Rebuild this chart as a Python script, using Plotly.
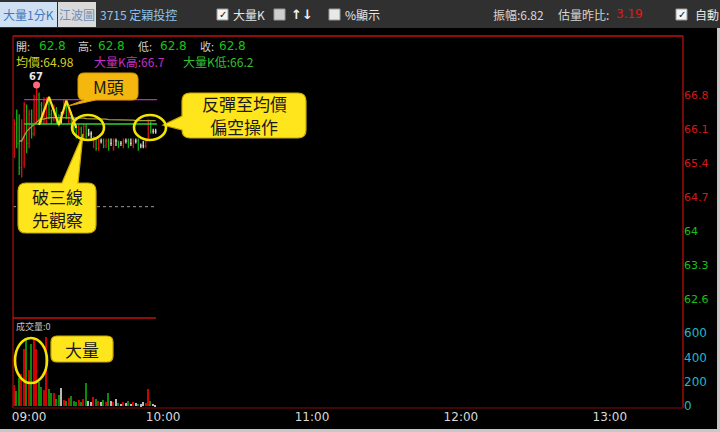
import plotly.graph_objects as go

W, H = 720, 432

# ---------------- data ----------------
minutes = list(range(58))
opens = [65.6, 66.2, 65.8, 65.3, 65.4, 66.55, 65.8, 66.4, 66.0, 66.3,
         66.8, 66.6, 66.25, 66.3, 66.6, 66.4, 66.3, 66.5, 66.3, 66.3,
         66.5, 66.6, 66.25, 66.4, 66.25, 66.1, 65.95, 66.1, 65.9, 66.15,
         66.0, 66.0, 65.75, 65.9, 65.7, 65.85, 65.85, 65.75, 65.85, 65.8,
         65.7, 65.85, 65.85, 65.8, 65.75, 65.85, 65.85, 65.8, 65.75, 65.85,
         65.85, 65.75, 65.75, 65.75, 65.85, 66.2, 66.05, 66.05]
highs = [66.3, 66.5, 66.4, 66.3, 66.65, 66.6, 66.5, 66.5, 66.8, 67.0,
         66.85, 66.65, 66.75, 66.75, 66.7, 66.5, 66.6, 66.55, 66.4, 66.45,
         66.7, 66.65, 66.5, 66.45, 66.3, 66.2, 66.2, 66.15, 66.2, 66.2,
         66.1, 66.05, 65.95, 65.9, 65.9, 65.9, 65.9, 65.9, 65.9, 65.9,
         65.9, 65.9, 65.85, 65.85, 65.9, 65.9, 65.9, 65.9, 65.9, 65.9,
         65.9, 65.8, 65.85, 65.9, 66.3, 66.25, 66.1, 66.1]
lows = [65.5, 65.7, 65.15, 65.1, 65.3, 65.6, 65.7, 65.9, 65.95, 66.2,
        66.2, 66.2, 66.2, 66.2, 66.3, 66.2, 66.25, 66.2, 66.15, 66.2,
        66.4, 66.3, 66.2, 66.2, 66.05, 65.9, 65.9, 65.9, 65.85, 65.9,
        65.95, 65.9, 65.7, 65.65, 65.65, 65.8, 65.7, 65.7, 65.65, 65.75,
        65.65, 65.75, 65.7, 65.75, 65.7, 65.8, 65.7, 65.75, 65.7, 65.8,
        65.65, 65.7, 65.7, 65.7, 65.85, 66.0, 66.0, 66.0]
closes = [66.2, 65.8, 65.3, 66.2, 66.6, 65.8, 66.4, 66.0, 66.7, 66.8,
          66.3, 66.25, 66.7, 66.7, 66.4, 66.3, 66.5, 66.3, 66.2, 66.3,
          66.6, 66.35, 66.4, 66.25, 66.1, 65.95, 66.1, 65.95, 66.15, 65.95,
          66.0, 66.0, 65.9, 65.7, 65.85, 65.85, 65.75, 65.85, 65.7, 65.8,
          65.85, 65.85, 65.75, 65.8, 65.85, 65.85, 65.75, 65.8, 65.85, 65.85,
          65.7, 65.75, 65.75, 65.85, 66.25, 66.05, 66.05, 66.05]
volumes = [170, 120, 230, 260, 470, 540, 300, 510, 560, 470,
           200, 155, 130, 570, 140, 105, 110, 60, 90, 150,
           50, 40, 65, 80, 45, 35, 50, 30, 60, 190,
           45, 30, 75, 60, 40, 30, 50, 35, 105, 40,
           30, 55, 25, 20, 35, 25, 40, 20, 30, 25,
           20, 15, 30, 25, 140, 40, 20, 10]
avg_minutes = list(range(2, 58))
avg_price = [65.85, 65.85, 65.95, 66.05, 66.1, 66.15, 66.2, 66.25,
             66.28, 66.3, 66.3, 66.32, 66.33, 66.33, 66.33, 66.33, 66.33, 66.33,
             66.33, 66.33, 66.33, 66.33, 66.33, 66.32, 66.32, 66.32, 66.32, 66.31,
             66.31, 66.31, 66.31, 66.3, 66.3, 66.3, 66.3, 66.3, 66.29, 66.29,
             66.29, 66.29, 66.29, 66.28, 66.28, 66.28, 66.28, 66.28, 66.28, 66.27,
             66.27, 66.27, 66.27, 66.27, 66.27, 66.27, 66.27, 66.27]
big_k_high = 66.7
big_k_low = 66.2
ref_price = 64.5
line_start, line_end = 4, 57.5
peak_minute, peak_price = 9, 67.0
m_top_x = [10, 14, 18, 21, 25]
m_top_y = [66.18, 66.76, 66.18, 66.68, 66.12]

price_ticks_up = [64.7, 65.4, 66.1, 66.8]
price_ticks_down = [62.6, 63.3, 64.0]
price_labels_down = ["62.6", "63.3", "64"]
vol_ticks = [0, 200, 400, 600]
time_ticks = [6, 60, 120, 180, 240]
time_labels = ["09:00", "10:00", "11:00", "12:00", "13:00"]

# ---------------- helpers (pixel -> paper) ----------------
def px(x):
    return x / W

def py(y):
    return 1 - y / H

def pt(x, y):
    return f"{px(x):.5f},{py(y):.5f}"

def bubble(x0, y0, x1, y1, r, tail=None):
    p = [f"M{pt(x0 + r, y0)}"]
    if tail and tail[0] == "top":
        _, a, b, tx, ty = tail
        p += [f"L{pt(a, y0)}", f"L{pt(tx, ty)}", f"L{pt(b, y0)}"]
    p += [f"L{pt(x1 - r, y0)}", f"Q{pt(x1, y0)} {pt(x1, y0 + r)}",
          f"L{pt(x1, y1 - r)}", f"Q{pt(x1, y1)} {pt(x1 - r, y1)}"]
    if tail and tail[0] == "bottom":
        _, a, b, tx, ty = tail
        p += [f"L{pt(b, y1)}", f"L{pt(tx, ty)}", f"L{pt(a, y1)}"]
    p += [f"L{pt(x0 + r, y1)}", f"Q{pt(x0, y1)} {pt(x0, y1 - r)}"]
    if tail and tail[0] == "left":
        _, a, b, tx, ty = tail
        p += [f"L{pt(x0, b)}", f"L{pt(tx, ty)}", f"L{pt(x0, a)}"]
    p += [f"L{pt(x0, y0 + r)}", f"Q{pt(x0, y0)} {pt(x0 + r, y0)}", "Z"]
    return " ".join(p)

# ---------------- traces ----------------
RED, GREEN, WHITE = "#e01010", "#10b010", "#d8d8d8"
groups = {"up": [], "down": [], "flat": []}
for i in minutes:
    if closes[i] > opens[i]:
        groups["up"].append(i)
    elif closes[i] < opens[i]:
        groups["down"].append(i)
    else:
        groups["flat"].append(i)
col_of = {"up": RED, "down": GREEN, "flat": WHITE}
vol_col = {"up": "#d00000", "down": "#0a8a0a", "flat": "#b8b8b8"}

fig = go.Figure()

fig.add_trace(go.Scatter(x=[minutes[0] - 0.5, line_end], y=[ref_price, ref_price],
                         xaxis="x2", yaxis="y", mode="lines",
                         line=dict(color="#9a9a9a", width=1, dash="dot"), hoverinfo="skip"))
fig.add_trace(go.Scatter(x=[line_start, line_end], y=[big_k_high, big_k_high],
                         xaxis="x2", yaxis="y", mode="lines",
                         line=dict(color="#c028c0", width=1.3), hoverinfo="skip"))
fig.add_trace(go.Scatter(x=avg_minutes, y=avg_price, xaxis="x2", yaxis="y", mode="lines",
                         line=dict(color="#a8a040", width=1.3), hoverinfo="skip"))
fig.add_trace(go.Scatter(x=[line_start, line_end], y=[big_k_low, big_k_low],
                         xaxis="x2", yaxis="y", mode="lines",
                         line=dict(color="#30d030", width=1.6), hoverinfo="skip"))

for g, idx in groups.items():
    fig.add_trace(go.Ohlc(
        x=[minutes[i] for i in idx], open=[opens[i] for i in idx],
        high=[highs[i] for i in idx], low=[lows[i] for i in idx],
        close=[closes[i] for i in idx], xaxis="x2", yaxis="y",
        tickwidth=0.35,
        increasing=dict(line=dict(color=col_of[g], width=1.3)),
        decreasing=dict(line=dict(color=col_of[g], width=1.3)),
        hoverinfo="skip"))

fig.add_trace(go.Scatter(x=m_top_x, y=m_top_y, xaxis="x2", yaxis="y", mode="lines",
                         line=dict(color="#ffe020", width=2.2), hoverinfo="skip"))
fig.add_trace(go.Scatter(x=[peak_minute], y=[peak_price], xaxis="x2", yaxis="y",
                         mode="markers", marker=dict(color="#ff6a7a", size=7),
                         hoverinfo="skip"))

fig.add_trace(go.Bar(x=minutes, y=volumes, xaxis="x", yaxis="y2", width=0.6,
                     marker=dict(color=[vol_col["up" if closes[i] > opens[i] else
                                                ("down" if closes[i] < opens[i] else "flat")]
                                        for i in minutes], line=dict(width=0)),
                     hoverinfo="skip"))
fig.add_trace(go.Scatter(x=[0], y=[64], xaxis="x2", yaxis="y3", mode="markers",
                         marker=dict(opacity=0), hoverinfo="skip"))

XD = [px(13), px(683)]
price_range = [62.21, 68.01]
layout_axes = dict(
    xaxis=dict(domain=XD, range=[-0.5, 269.5], anchor="y2", showgrid=False, zeroline=False,
               showline=False, tickmode="array", tickvals=time_ticks, ticktext=time_labels,
               ticks="", automargin=False,
               tickfont=dict(color="#d8d8d8", size=12, family="DejaVu Sans"),
               rangeslider=dict(visible=False), fixedrange=True),
    xaxis2=dict(domain=XD, matches="x", anchor="y", visible=False, automargin=False,
                rangeslider=dict(visible=False)),
    yaxis=dict(domain=[py(318), py(36)], range=price_range, side="right", anchor="x2",
               showgrid=False, zeroline=False, showline=False, ticks="", automargin=False,
               tickmode="array", tickvals=price_ticks_up,
               ticktext=[f"{v:.1f}" for v in price_ticks_up],
               tickfont=dict(color="#d41818", size=11, family="DejaVu Sans")),
    yaxis3=dict(domain=[py(318), py(36)], range=price_range, side="right", anchor="x2",
                overlaying="y", showgrid=False, zeroline=False, showline=False, ticks="",
                automargin=False,
                tickmode="array", tickvals=price_ticks_down, ticktext=price_labels_down,
                tickfont=dict(color="#18c018", size=11, family="DejaVu Sans")),
    yaxis2=dict(domain=[py(408), py(318)], range=[-16, 724], side="right", anchor="x",
                showgrid=False, zeroline=False, showline=False, ticks="", automargin=False,
                tickmode="array", tickvals=vol_ticks,
                tickfont=dict(color="#1cb8c8", size=12, family="DejaVu Sans")),
)

# ---------------- shapes ----------------
shapes = []
def rect(x0, y0, x1, y1, fill, line=None, lw=0):
    shapes.append(dict(type="rect", xref="paper", yref="paper", x0=px(x0), x1=px(x1),
                       y0=py(y1), y1=py(y0), fillcolor=fill,
                       line=dict(color=line or fill, width=lw), layer="below"))

def seg(x0, y0, x1, y1, color, w=1.5, dash="solid", layer="above"):
    shapes.append(dict(type="line", xref="paper", yref="paper", x0=px(x0), x1=px(x1),
                       y0=py(y0), y1=py(y1), line=dict(color=color, width=w, dash=dash),
                       layer=layer))

rect(0, 0, 720, 28, "#303030")
rect(0, 2, 57, 27, "#cfe0f3")
rect(58, 2, 96, 27, "#dadada")
for x in (217, 676):
    rect(x, 9, x + 11, 20, "#f4f4f4", "#9a9a9a", 1)
rect(274, 9, 285, 20, "#cfcfcf", "#9a9a9a", 1)
rect(329, 9, 340, 20, "#e8e8e8", "#9a9a9a", 1)
seg(0, 430.5, 720, 430.5, "#c8c8c8", 3)
seg(718.5, 28, 718.5, 432, "#c8c8c8", 3)

seg(13, 36, 683, 36, "#c01010", 1.5)
seg(683, 36, 683, 408, "#a00c0c", 1.5)
seg(13, 36, 13, 408, "#8c0c0c", 1.5)
seg(13, 408, 683, 408, "#5a0808", 1.5)
seg(13, 318, 156, 318, "#c01010", 1.5)

YEL = "#ffe61c"
shapes.append(dict(type="path", xref="paper", yref="paper",
                   path=bubble(78, 73, 138, 100, 6, ("bottom", 84, 96, 68, 106)),
                   fillcolor="#f5b70e", line=dict(color="#d89a00", width=1)))
shapes.append(dict(type="path", xref="paper", yref="paper",
                   path=bubble(182, 93, 306, 138, 8, ("left", 116, 130, 163, 125)),
                   fillcolor=YEL, line=dict(color="#c8a800", width=1.2)))
shapes.append(dict(type="path", xref="paper", yref="paper",
                   path=bubble(18, 183, 96, 233, 8, ("top", 62, 78, 83, 134)),
                   fillcolor=YEL, line=dict(color="#c8a800", width=1.2)))
shapes.append(dict(type="path", xref="paper", yref="paper",
                   path=bubble(51, 336, 113, 362, 6),
                   fillcolor=YEL, line=dict(color="#c8a800", width=1.2)))
for (x0, y0, x1, y1) in [(72, 115, 104, 140), (134, 115, 166, 140), (15, 338, 47, 383)]:
    shapes.append(dict(type="circle", xref="paper", yref="paper", x0=px(x0), x1=px(x1),
                       y0=py(y1), y1=py(y0), line=dict(color="#f2e400", width=2.6)))

# ---------------- annotations ----------------
ann = []
CJK = "Noto Sans CJK TC"
def txt(x, y, s, color, size=12, family=CJK, anchor="left", bold=False):
    if bold:
        s = f"<b>{s}</b>"
    ann.append(dict(x=px(x), y=py(y), xref="paper", yref="paper", text=s, showarrow=False,
                    xanchor=anchor, yanchor="middle",
                    font=dict(color=color, size=size, family=family)))

txt(28.5, 14, "大量1分K", "#3f78c0", 12, anchor="center")
txt(77, 14, "江波圖", "#6f8fb4", 12, anchor="center")
txt(98, 14, "3715 定穎投控", "#8cc4ef", 12)
txt(222.5, 14.5, "✓", "#111111", 10, "DejaVu Sans", anchor="center", bold=True)
txt(231, 14, "大量K", "#e6e6e6", 12)
txt(289, 14, "↑↓", "#f0f0f0", 13, "DejaVu Sans", bold=True)
txt(343, 14, "%顯示", "#e6e6e6", 12)
txt(491, 14, "振幅:6.82", "#d4d4d4", 12)
txt(556, 14, "估量昨比:", "#d4d4d4", 12)
txt(614, 14, "3.19", "#e01818", 12, "DejaVu Sans")
txt(681.5, 14.5, "✓", "#111111", 10, "DejaVu Sans", anchor="center", bold=True)
txt(693, 14, "自動", "#e6e6e6", 12)

GRN = "#18c018"
txt(14, 46, "開:", "#d0d0d0", 11)
txt(37, 46, "62.8", GRN, 12, "DejaVu Sans")
txt(76, 46, "高:", "#d0d0d0", 11)
txt(96, 46, "62.8", GRN, 12, "DejaVu Sans")
txt(136, 46, "低:", "#d0d0d0", 11)
txt(158, 46, "62.8", GRN, 12, "DejaVu Sans")
txt(198, 46, "收:", "#d0d0d0", 11)
txt(217, 46, "62.8", GRN, 12, "DejaVu Sans")
txt(14, 61, "均價:64.98", "#d6d020", 12)
txt(92, 61, "大量K高:66.7", "#c030c0", 12)
txt(181, 61, "大量K低:66.2", "#30c030", 12)
txt(36, 76, "67", "#e8e8e8", 10, "DejaVu Sans", anchor="center", bold=True)
txt(14, 326, "成交量:0", "#c0c0c0", 9)

txt(108, 87, "M頭", "#1a1a1a", 17, anchor="center")
txt(244, 104, "反彈至均價", "#1a1a1a", 17, anchor="center")
txt(244, 127, "偏空操作", "#1a1a1a", 17, anchor="center")
txt(57, 196, "破三線", "#1a1a1a", 17, anchor="center")
txt(57, 219, "先觀察", "#1a1a1a", 17, anchor="center")
txt(82, 349, "大量", "#1a1a1a", 17, anchor="center")

fig.update_layout(
    width=W, height=H, margin=dict(l=0, r=0, t=0, b=0, autoexpand=False),
    paper_bgcolor="#000000", plot_bgcolor="#000000",
    showlegend=False, bargap=0, hovermode=False,
    font=dict(family="DejaVu Sans"),
    shapes=shapes, annotations=ann,
    **layout_axes,
)

fig.write_html("out.html", config=dict(displayModeBar=False),
               post_script="document.body.style.margin='0';document.body.style.background='#000';")
